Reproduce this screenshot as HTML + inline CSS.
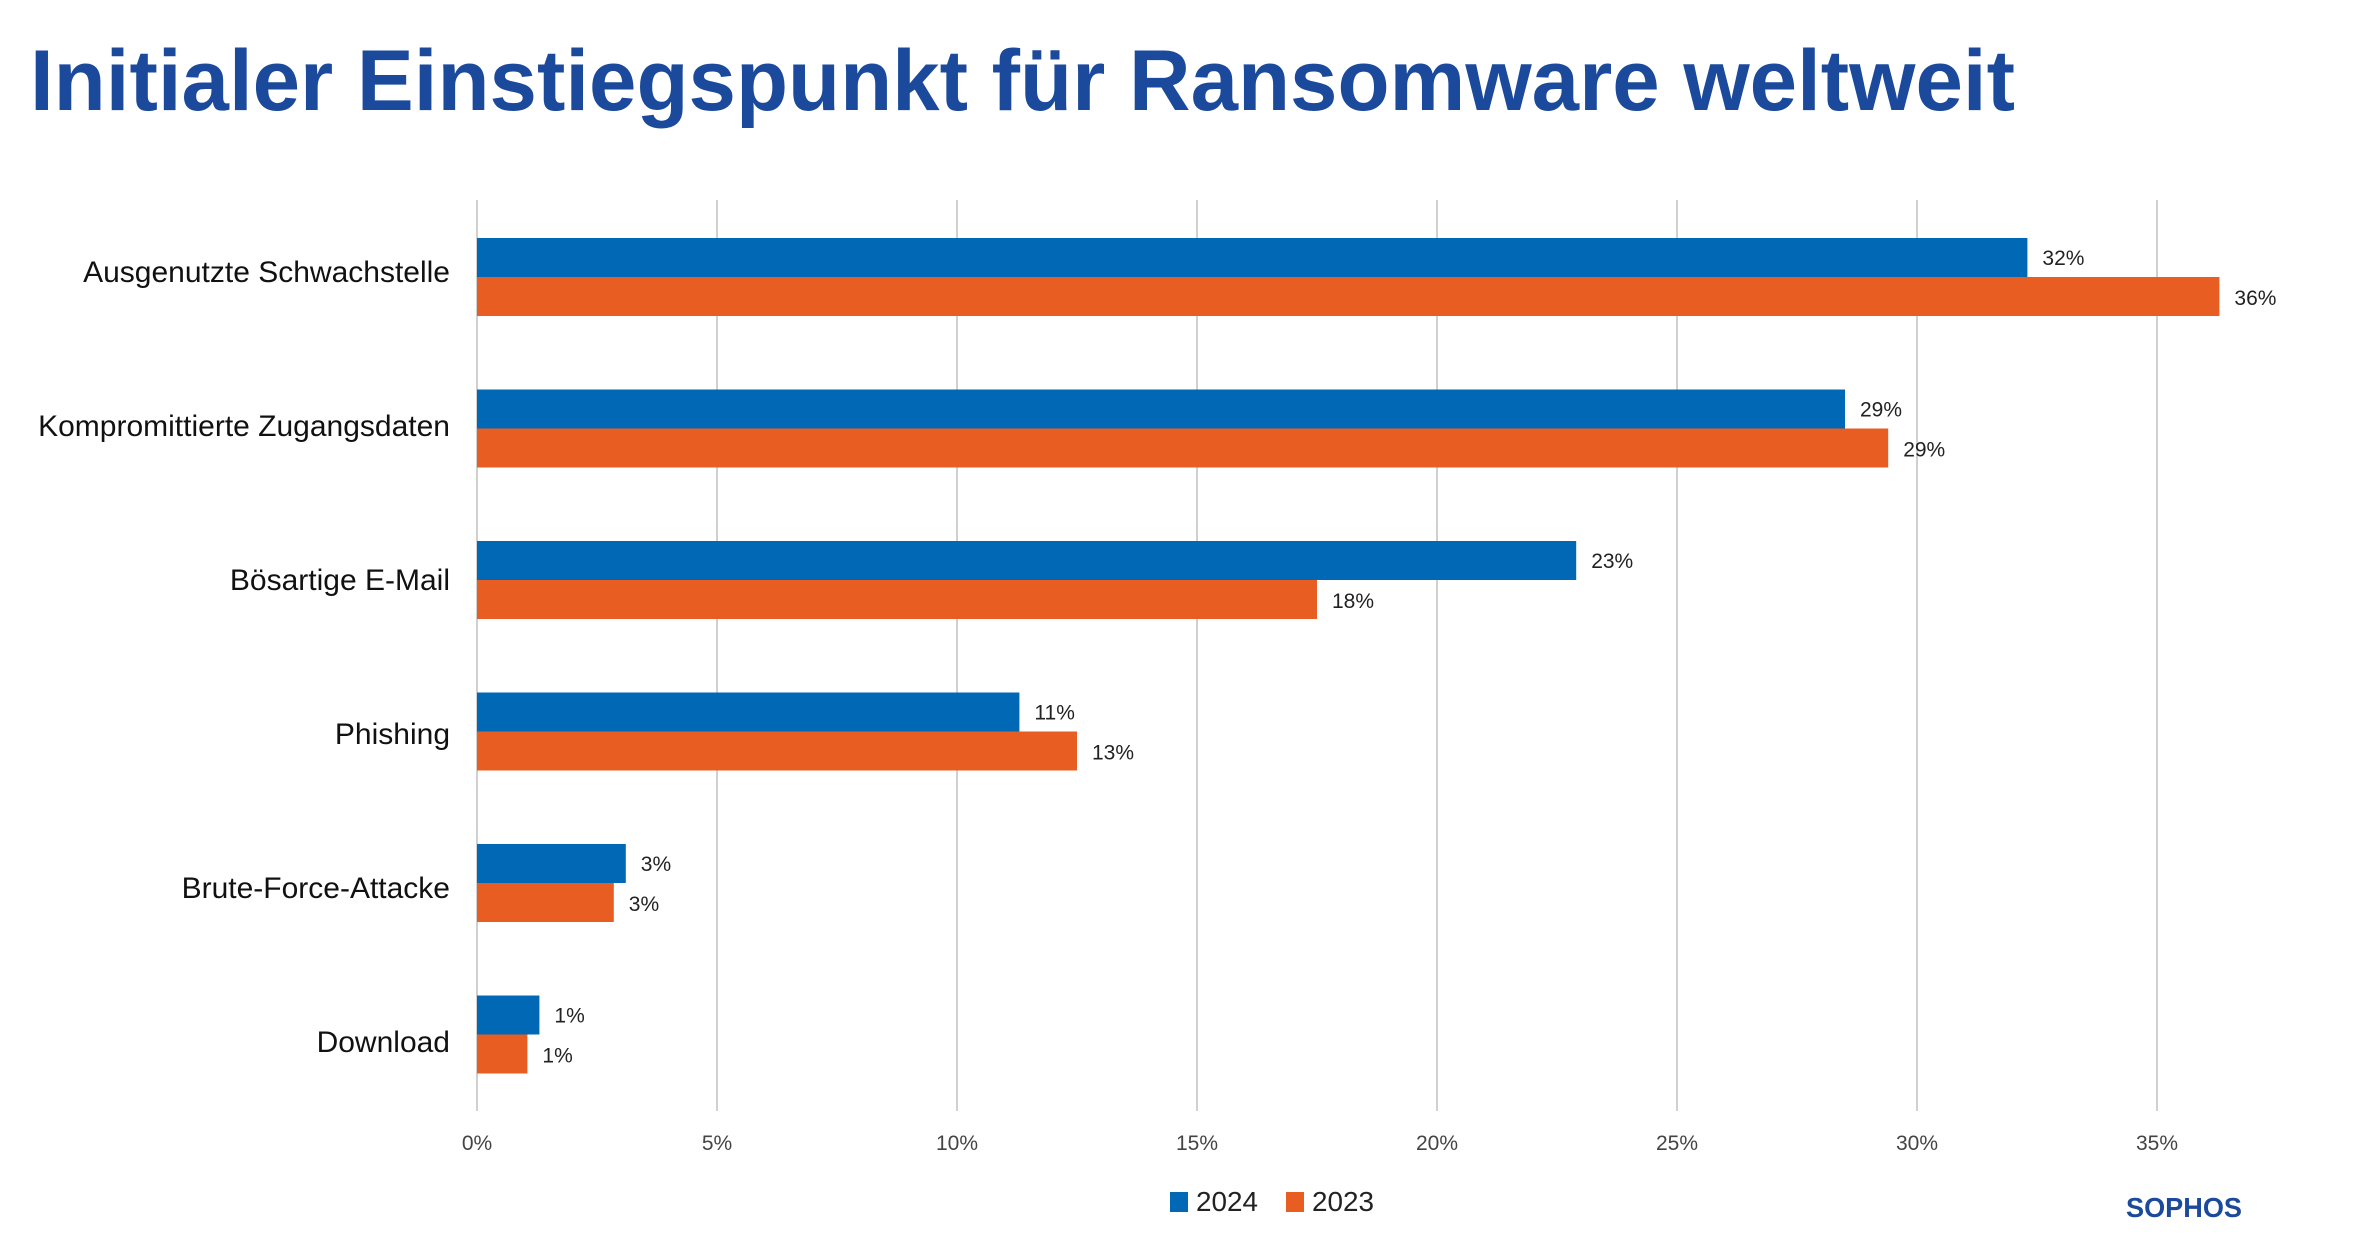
<!DOCTYPE html>
<html><head><meta charset="utf-8"><style>
html,body{margin:0;padding:0;background:#fff;}
svg{display:block;font-family:"Liberation Sans",sans-serif;}
</style></head><body>
<svg id="chart" width="2362" height="1247" viewBox="0 0 2362 1247">
<text x="30" y="110" font-size="86" font-weight="bold" fill="#1b4a9c" textLength="1985" lengthAdjust="spacingAndGlyphs">Initialer Einstiegspunkt für Ransomware weltweit</text>
<g id="grid"></g>
<g id="bars"></g>
<g id="labels"></g>
<g>
<rect x="1170" y="1192" width="18" height="20" fill="#0068b5"/>
<text x="1196" y="1211" font-size="28" fill="#222" textLength="62" lengthAdjust="spacingAndGlyphs">2024</text>
<rect x="1286" y="1192" width="18" height="20" fill="#e85e22"/>
<text x="1312" y="1211" font-size="28" fill="#222" textLength="62" lengthAdjust="spacingAndGlyphs">2023</text>
</g>
<text x="2126" y="1217" font-size="28" font-weight="bold" fill="#1b4a9c" textLength="116" lengthAdjust="spacingAndGlyphs">SOPHOS</text>
</svg>
<script>
const categories = ["Ausgenutzte Schwachstelle","Kompromittierte Zugangsdaten","Bösartige E-Mail","Phishing","Brute-Force-Attacke","Download"];
const values2024 = [32.3, 28.5, 22.9, 11.3, 3.1, 1.3];
const values2023 = [36.3, 29.4, 17.5, 12.5, 2.85, 1.05];
const labels2024 = ["32%","29%","23%","11%","3%","1%"];
const labels2023 = ["36%","29%","18%","13%","3%","1%"];
const ticks = [0,5,10,15,20,25,30,35];

const NS = "http://www.w3.org/2000/svg";
const x0 = 477, pxPerPct = 48;
const x = v => x0 + v * pxPerPct;
const groupCenter = i => 277 + i * 151.5;
const labelCenter = i => 271 + i * 154;
const barH = 39;
function mk(tag, attrs, parent){const e=document.createElementNS(NS,tag);for(const k in attrs)e.setAttribute(k,attrs[k]);parent.appendChild(e);return e;}
const grid=document.getElementById('grid'), bars=document.getElementById('bars'), labels=document.getElementById('labels');
ticks.forEach(t=>{
  const l=mk('line',{x1:x(t),x2:x(t),y1:200,y2:1111,stroke:'#d0d0d0','stroke-width':2},grid);
  
  
  const tx=mk('text',{x:x(t),y:1150,'font-size':21,fill:'#444','text-anchor':'middle'},labels);
  tx.textContent=t+'%';
  
  
});
categories.forEach((c,i)=>{
  const cy=groupCenter(i);
  const ct=mk('text',{x:450,y:labelCenter(i)+11,'font-size':30,fill:'#111','text-anchor':'end'},labels);
  ct.textContent=c;
  
  
  const b1=mk('rect',{x:x0,y:cy-barH,width:x(values2024[i])-x0,height:barH,fill:'#0068b5'},bars);
  
  
  const b2=mk('rect',{x:x0,y:cy,width:x(values2023[i])-x0,height:barH,fill:'#e85e22'},bars);
  
  
  const v1=mk('text',{x:x(values2024[i])+15,y:cy-12,'font-size':21,fill:'#222'},labels);
  v1.textContent=labels2024[i];
  
  
  const v2=mk('text',{x:x(values2023[i])+15,y:cy+28,'font-size':21,fill:'#222'},labels);
  v2.textContent=labels2023[i];
  
  
});
</script>
</body></html>
